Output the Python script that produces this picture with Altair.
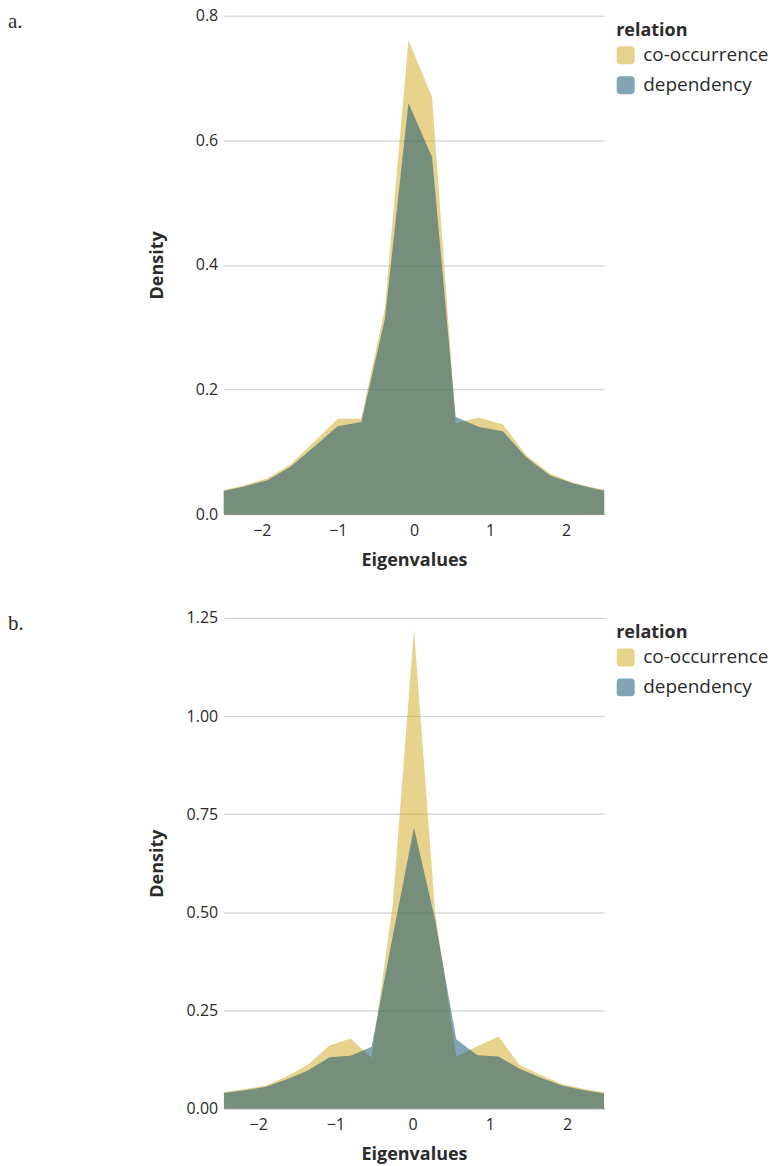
import altair as alt
import pandas as pd

# ---- data ----
relations = ["co-occurrence", "dependency"]
colors = ["#D1A71D", "#044B6A"]

# panel a
a_x = [-2.552, -2.242, -1.932, -1.622, -1.312, -1.002, -0.692, -0.382, -0.072,
       0.238, 0.548, 0.858, 1.168, 1.478, 1.788, 2.098, 2.408, 2.718]
a_cooc = [0.037, 0.046, 0.057, 0.080, 0.116, 0.153, 0.153, 0.331, 0.761,
          0.669, 0.146, 0.155, 0.144, 0.094, 0.065, 0.050, 0.041, 0.034]
a_dep = [0.036, 0.044, 0.054, 0.076, 0.108, 0.141, 0.148, 0.313, 0.660,
         0.573, 0.156, 0.140, 0.133, 0.091, 0.062, 0.049, 0.040, 0.033]

# panel b
b_x = [-2.447, -2.173, -1.900, -1.626, -1.352, -1.078, -0.804, -0.531, -0.257,
       0.017, 0.291, 0.565, 0.838, 1.112, 1.386, 1.660, 1.933, 2.207, 2.481]
b_cooc = [0.041, 0.049, 0.058, 0.082, 0.112, 0.160, 0.178, 0.129, 0.520,
          1.221, 0.500, 0.132, 0.158, 0.183, 0.110, 0.085, 0.062, 0.050, 0.041]
b_dep = [0.039, 0.046, 0.055, 0.074, 0.097, 0.130, 0.134, 0.157, 0.440,
         0.715, 0.480, 0.176, 0.135, 0.132, 0.101, 0.078, 0.058, 0.047, 0.038]

x_ticks = [-2, -1, 0, 1, 2]
a_yticks = [0.0, 0.2, 0.4, 0.6, 0.8]
b_yticks = [0.0, 0.25, 0.5, 0.75, 1.0, 1.25]

PLOT_W = 381
TXT = "#2b2b2b"


def panel(xs, cooc, dep, xdom, yticks, yfmt, height, label):
    df = pd.DataFrame({
        "x": xs + xs,
        "density": cooc + dep,
        "relation": [relations[0]] * len(xs) + [relations[1]] * len(xs),
    })
    area = alt.Chart(df).mark_area(opacity=0.5, clip=True).encode(
        x=alt.X("x:Q",
                scale=alt.Scale(domain=xdom, nice=False, zero=False),
                axis=alt.Axis(title="Eigenvalues", values=x_ticks, format="d",
                              grid=False, ticks=False, domain=True,
                              domainColor="#8a8a8a", labelPadding=8,
                              titleY=46, titleBaseline="middle")),
        y=alt.Y("density:Q", stack=None,
                scale=alt.Scale(domain=[0, yticks[-1]], nice=False),
                axis=alt.Axis(title="Density", values=yticks, format=yfmt,
                              grid=True, ticks=False, domain=False,
                              labelPadding=6, titleX=-66, titleY=height / 2,
                              titleBaseline="middle")),
        color=alt.Color("relation:N",
                        scale=alt.Scale(domain=relations, range=colors),
                        legend=alt.Legend(
                            title="relation", offset=6, padding=6,
                            symbolType="M-0.6,-1L0.6,-1Q1,-1 1,-0.6L1,0.6Q1,1 0.6,1L-0.6,1Q-1,1 -1,0.6L-1,-0.6Q-1,-1 -0.6,-1Z",
                            symbolSize=324, symbolOpacity=0.5, symbolStrokeWidth=0,
                            labelOffset=8, rowPadding=10, titlePadding=6)),
    )
    txt = alt.Chart(pd.DataFrame({"t": [label]})).mark_text(
        font="Liberation Serif", fontSize=21, align="left",
        baseline="alphabetic", color=TXT
    ).encode(text="t:N", x=alt.value(-216), y=alt.value(12))
    return alt.layer(area, txt).properties(width=PLOT_W, height=height)


top = panel(a_x, a_cooc, a_dep, [-2.5, 2.5], a_yticks, ".1f", 499, "a.")
bottom = panel(b_x, b_cooc, b_dep, [-2.447, 2.481], b_yticks, ".2f", 491, "b.")

chart = alt.vconcat(top, bottom, spacing=41).resolve_scale(
    color="independent", x="independent", y="independent"
).resolve_legend(
    color="independent"
).properties(
    padding={"left": 8, "top": 7, "right": 0, "bottom": 0}
).configure(
    font="Open Sans"
).configure_view(
    stroke=None
).configure_axis(
    labelFont="Open Sans", labelFontSize=16, labelColor=TXT,
    titleFont="Open Sans", titleFontSize=18, titleFontWeight="bold", titleColor=TXT,
    gridColor="#c9c9c9", gridWidth=1,
).configure_legend(
    titleFont="Open Sans", titleFontSize=18, titleFontWeight="bold", titleColor=TXT,
    labelFont="Open Sans", labelFontSize=19, labelColor=TXT,
)

chart.save("out.html", embed_options={"renderer": "svg", "actions": False})
